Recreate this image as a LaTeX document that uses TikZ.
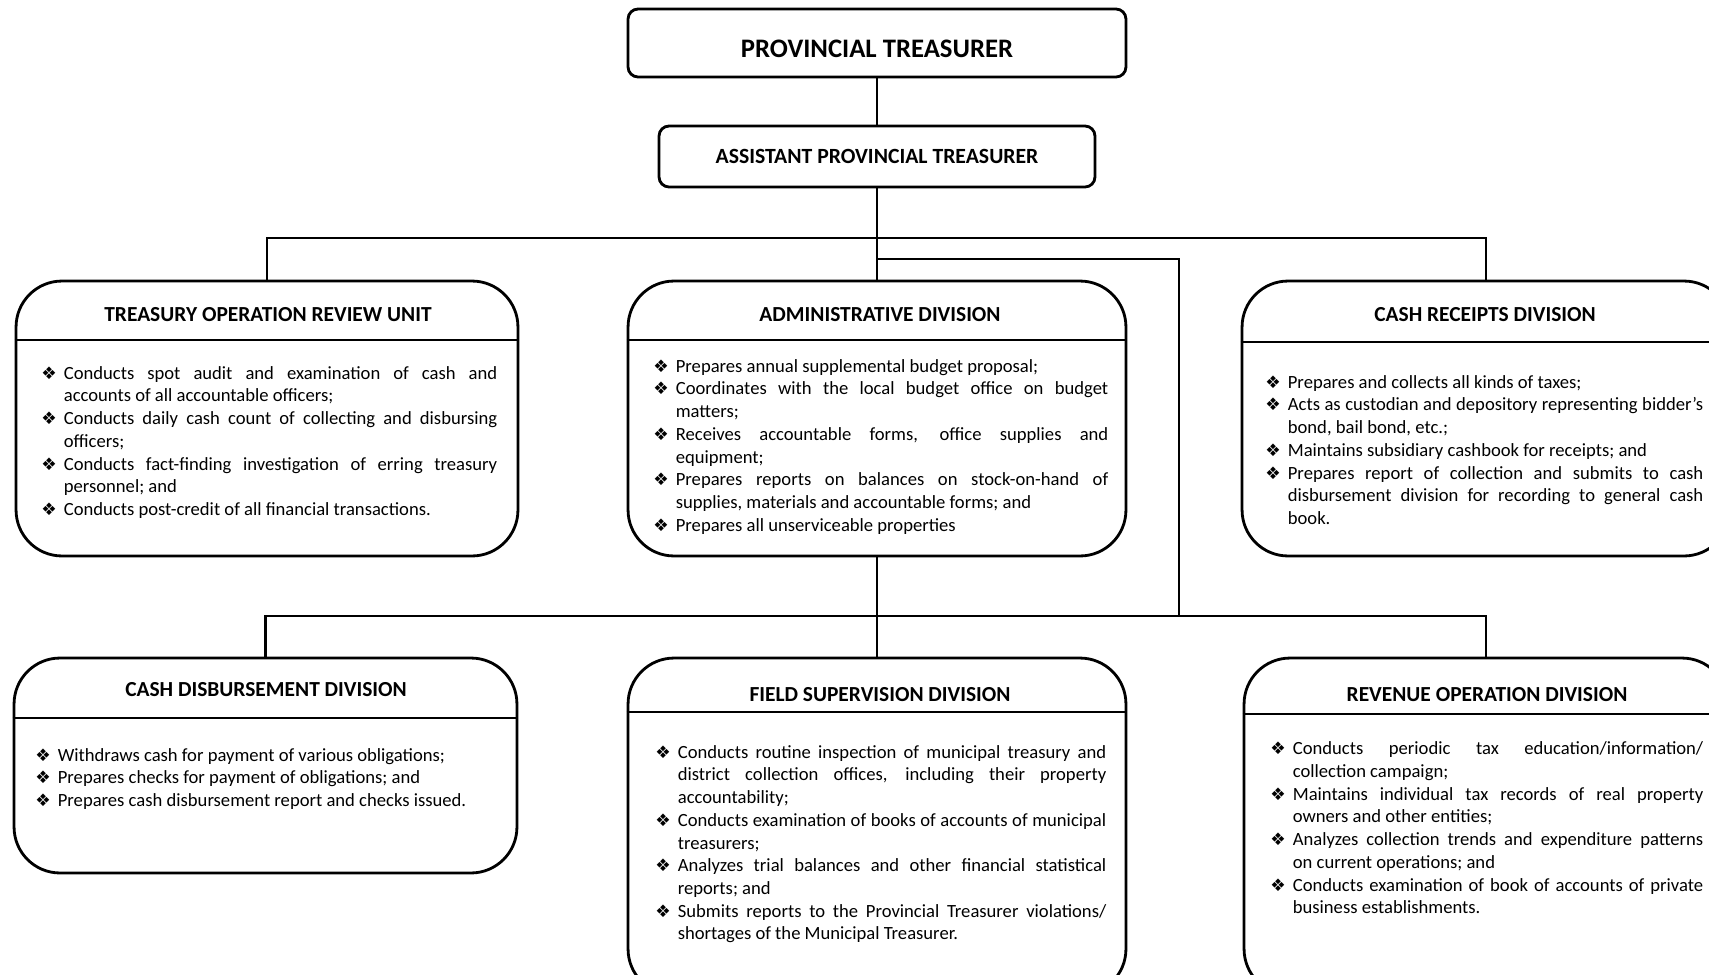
\documentclass[tikz,border=0pt]{standalone}
\usepackage{fontspec}
\setmainfont{Carlito}
\newfontfamily\dingfont{DejaVu Sans}

% loose justification for the duty paragraphs
\tolerance=10000
\hbadness=10000

% bullet list helpers for the duty boxes
\newlength\bind
\setlength\bind{0.45cm}
\newcommand\bul{{\dingfont\fontsize{9.8}{10}\selectfont\char"2756}}
\newcommand\bitem{\par\noindent\hangindent=\bind\hangafter=1\strut\makebox[\bind][l]{\bul}\ignorespaces}

\tikzset{
  conn/.style={line width=1.6pt},
  topbox/.style={draw, line width=1.6pt, rounded corners=0.2cm, inner sep=0pt},
  unitbox/.style={draw, line width=1.6pt, rounded corners=0.92cm, inner sep=0pt},
  divider/.style={line width=1.6pt},
  head/.style={font=\fontsize{12.2}{14}\selectfont\bfseries, inner sep=0pt},
  body/.style={anchor=north west, inner sep=0pt, align=justify,
    font=\fontsize{10.6}{12.94}\selectfont},
}

\begin{document}
\begin{tikzpicture}[x=0.02cm, y=-0.02cm]
\path[use as bounding box, fill=white] (0,0) rectangle (1709,974);
\clip (0,0) rectangle (1709,974);

% top of the hierarchy
\node[topbox, minimum width=9.96cm, minimum height=1.36cm] (pt) at (877,43) {};
\node[font=\fontsize{15.2}{18}\selectfont\bfseries, inner sep=0pt] (ptt) at (877,48.5) {PROVINCIAL TREASURER};
\node[topbox, minimum width=8.72cm, minimum height=1.22cm,
      font=\fontsize{12.35}{14}\selectfont\bfseries] (apt) at (877,156.5) {ASSISTANT PROVINCIAL TREASURER};

% first row of units
\node[unitbox, minimum width=10.04cm, minimum height=5.5cm] (toru) at (267,418.5) {};
\node[unitbox, minimum width=9.96cm, minimum height=5.5cm] (adm) at (877,418.5) {};
\node[unitbox, minimum width=9.76cm, minimum height=5.5cm] (crd) at (1486,418.5) {};

% second row of units
\node[unitbox, minimum width=10.06cm, minimum height=4.3cm] (cdd) at (265.5,765.5) {};
\node[unitbox, minimum width=9.96cm, minimum height=6.74cm] (fsd) at (877,826.5) {};
\node[unitbox, minimum width=9.68cm, minimum height=6.74cm] (rod) at (1486,826.5) {};

% header dividers
\draw[divider] (toru.west |- 0,340) -- (toru.east |- 0,340);
\draw[divider] (adm.west |- 0,340) -- (adm.east |- 0,340);
\draw[divider] (crd.west |- 0,342) -- (crd.east |- 0,342);
\draw[divider] (cdd.west |- 0,718) -- (cdd.east |- 0,718);
\draw[divider] (fsd.west |- 0,712) -- (fsd.east |- 0,712);
\draw[divider] (rod.west |- 0,714) -- (rod.east |- 0,714);

% headings
\node[head] (toruh) at (268,315) {TREASURY OPERATION REVIEW UNIT};
\node[head] (admh) at (880,315) {ADMINISTRATIVE DIVISION};
\node[head] (crdh) at (1485,315) {CASH RECEIPTS DIVISION};
\node[head] (cddh) at (266,690) {CASH DISBURSEMENT DIVISION};
\node[head] (fsdh) at (880,695) {FIELD SUPERVISION DIVISION};
\node[head] (rodh) at (1487,695) {REVENUE OPERATION DIVISION};

% duties
\node[body, text width=9.12cm] (torub) at (41,356) {%
\bitem Conducts spot audit and examination of cash and\linebreak accounts of all accountable officers;
\bitem Conducts daily cash count of collecting and disbursing\linebreak officers;
\bitem Conducts fact-finding investigation of erring treasury\linebreak personnel; and
\bitem Conducts post-credit of all financial transactions.\par};

\node[body, text width=9.1cm] (admb) at (653,349) {%
\bitem Prepares annual supplemental budget proposal;
\bitem Coordinates with the local budget office on budget\linebreak matters;
\bitem Receives accountable forms, office supplies and\linebreak equipment;
\bitem Prepares reports on balances on stock-on-hand of\linebreak supplies, materials and accountable forms; and
\bitem Prepares all unserviceable properties\par};

\node[body, text width=8.76cm] (crdb) at (1265,365) {%
\bitem Prepares and collects all kinds of taxes;
\bitem Acts as custodian and depository representing bidder’s\linebreak bond, bail bond, etc.;
\bitem Maintains subsidiary cashbook for receipts; and
\bitem Prepares report of collection and submits to cash\linebreak disbursement division for recording to general cash\linebreak book.\par};

\node[body, text width=9.24cm] (cddb) at (35,738) {%
\bitem Withdraws cash for payment of various obligations;
\bitem Prepares checks for payment of obligations; and
\bitem Prepares cash disbursement report and checks issued.\par};

\node[body, text width=9.02cm] (fsdb) at (655,735) {%
\bitem Conducts routine inspection of municipal treasury and\linebreak district collection offices, including their property\linebreak accountability;
\bitem Conducts examination of books of accounts of municipal\linebreak treasurers;
\bitem Analyzes trial balances and other financial statistical\linebreak reports; and
\bitem Submits reports to the Provincial Treasurer violations/\linebreak shortages of the Municipal Treasurer.\par};

\node[body, text width=8.66cm] (rodb) at (1270,731.5) {%
\bitem Conducts periodic tax education/information/\linebreak collection campaign;
\bitem Maintains individual tax records of real property\linebreak owners and other entities;
\bitem Analyzes collection trends and expenditure patterns\linebreak on current operations; and
\bitem Conducts examination of book of accounts of private\linebreak business establishments.\par};

% reporting lines
\coordinate (bus1) at (877,238);
\coordinate (tap) at (877,259);
\coordinate (drop) at (1179,616);
\coordinate (bus2) at (877,616);
\draw[conn] (pt.south) -- (apt.north);
\draw[conn] (apt.south) -- (adm.north);
\draw[conn] (toru.north) |- (bus1) -| (crd.north);
\draw[conn] (tap) -| (drop);
\draw[conn] (adm.south) -- (fsd.north);
\draw[conn] (cdd.north) |- (bus2) -| (rod.north);
\end{tikzpicture}
\end{document}
